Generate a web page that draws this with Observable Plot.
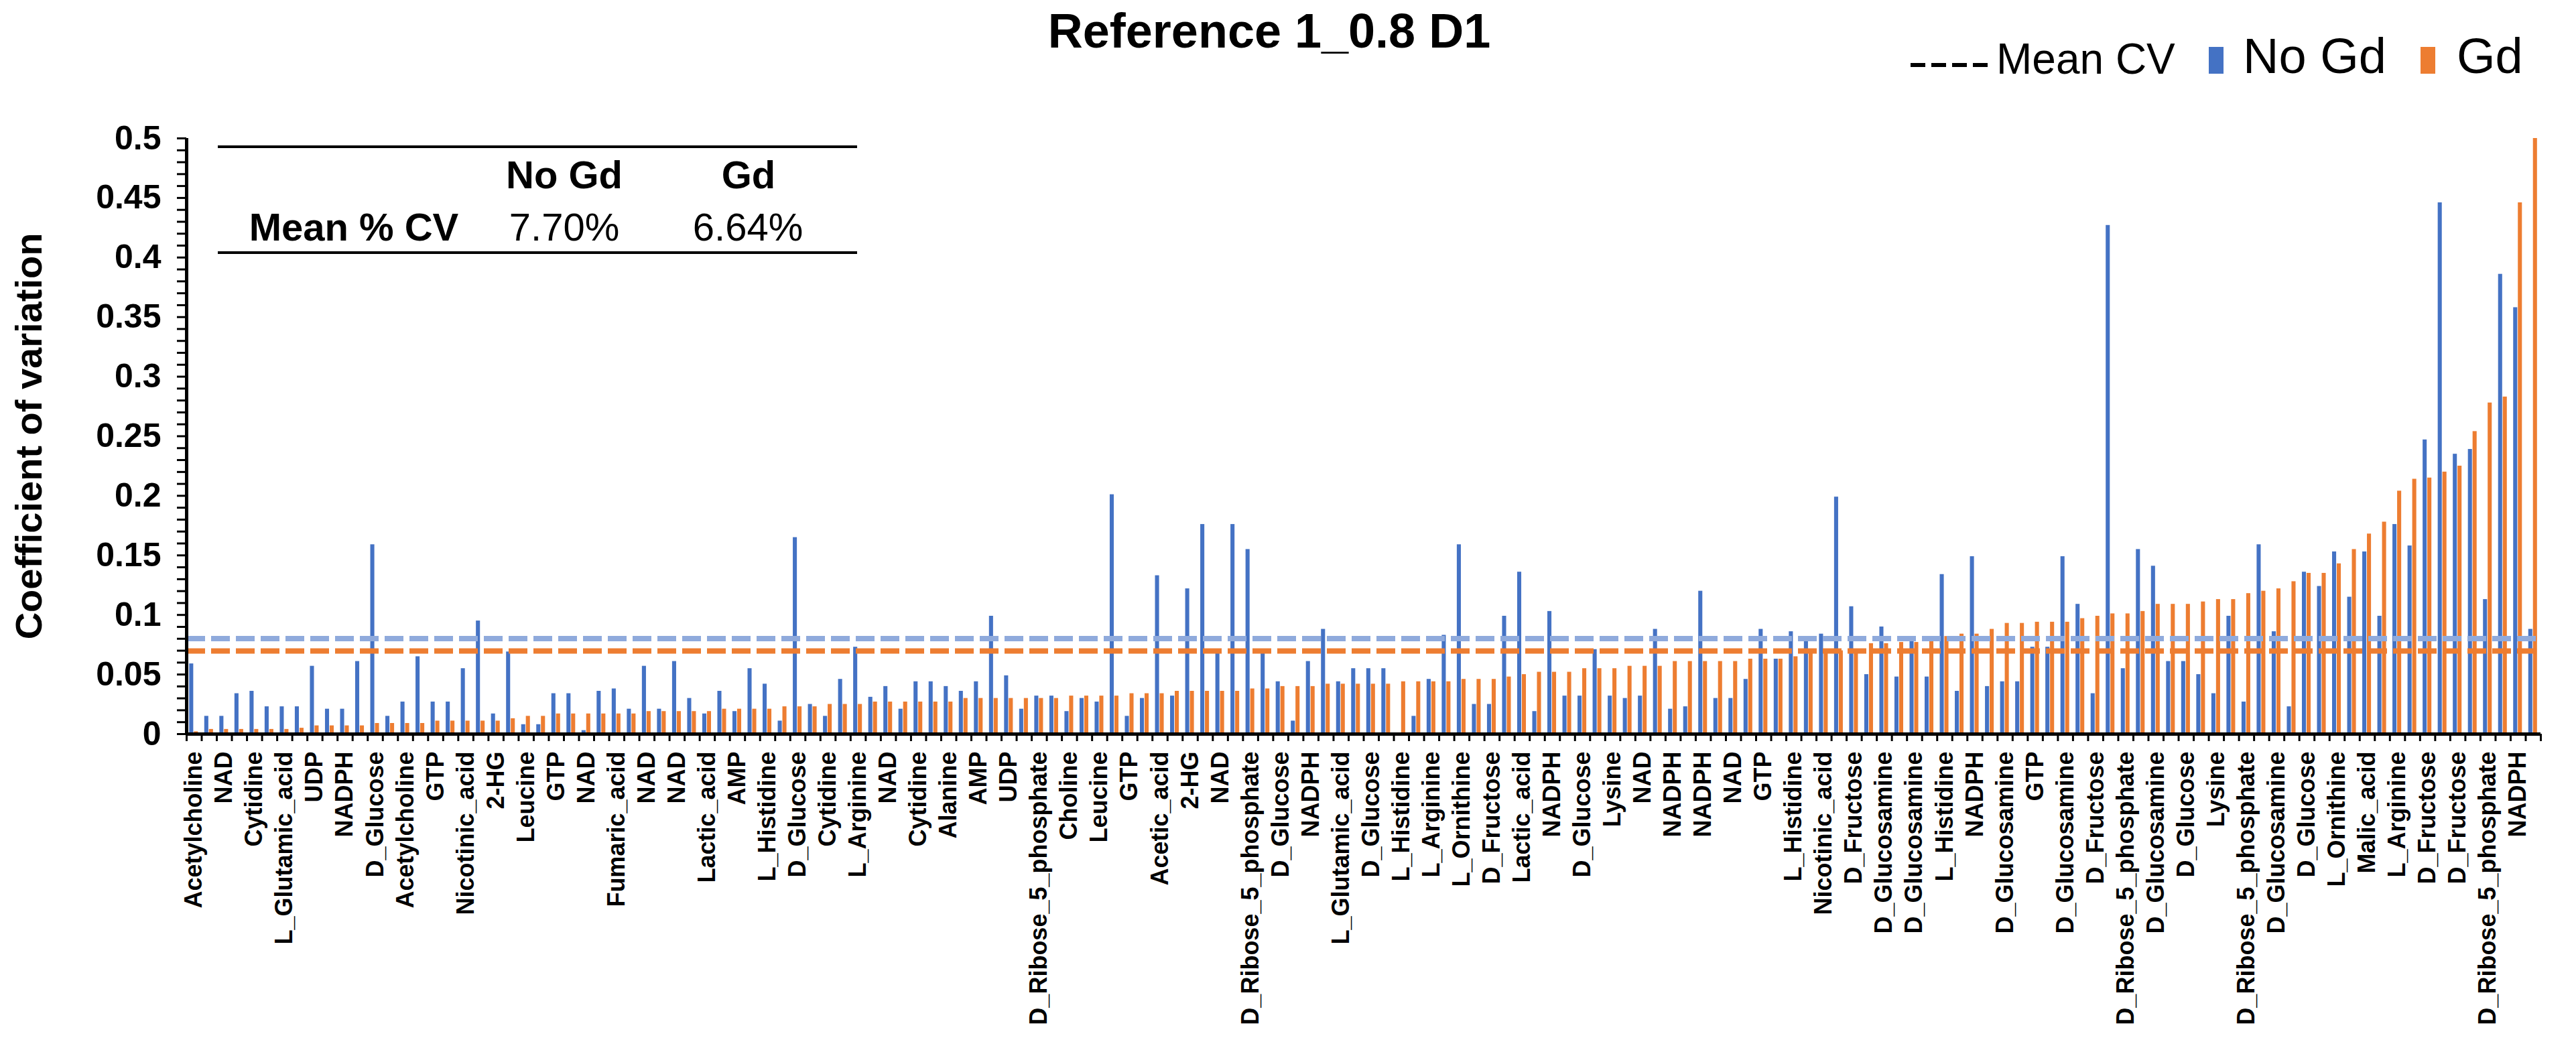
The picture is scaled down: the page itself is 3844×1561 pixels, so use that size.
<!DOCTYPE html>
<html>
<head>
<meta charset="utf-8">
<script src="https://cdn.jsdelivr.net/npm/d3@7"></script>
<script src="https://cdn.jsdelivr.net/npm/@observablehq/plot@0.6"></script>
<style>
  html, body { margin: 0; padding: 0; background: #fff; }
  #page { position: relative; width: 3844px; height: 1561px; font-family: "Liberation Sans", Arial, sans-serif; color: #000; overflow: hidden; }
  #header { position: relative; width: 3844px; height: 130px; }
  .abs { position: absolute; white-space: nowrap; }
  #title { left: 1394px; width: 1000px; text-align: center; top: 10px; font-size: 72px; line-height: 72px; font-weight: bold; }
  .leg { top: 56px; font-size: 64px; line-height: 64px; }
  .legbig { top: 47px; font-size: 74px; line-height: 74px; }
  .sw { position: absolute; top: 70px; width: 22px; height: 40px; }
  .dash { position: absolute; top: 94px; height: 6px; width: 116px;
          background: repeating-linear-gradient(to right, #000 0 22px, transparent 22px 31px); }
  #table { position: absolute; left: 0; top: 0; }
  .tline { position: absolute; left: 325px; width: 954px; height: 4px; background: #000; }
  .tcell { position: absolute; width: 400px; text-align: center; font-size: 58px; line-height: 58px; }
</style>
</head>
<body>
<div id="page">
  <div id="header">
    <div id="title" class="abs">Reference 1_0.8 D1</div>
    <div class="dash" style="left:2851px;"></div>
    <div class="abs leg" style="left:2979px;">Mean CV</div>
    <div class="sw" style="left:3296px;background:#4472C4;"></div>
    <div class="abs legbig" style="left:3347px;">No Gd</div>
    <div class="sw" style="left:3612px;background:#ED7D31;"></div>
    <div class="abs legbig" style="left:3666px;">Gd</div>
  </div>
  <div id="chart"></div>
  <div id="table">
    <div class="tline" style="top:217px;"></div>
    <div class="tcell" style="left:642px;top:232px;font-weight:bold;">No Gd</div>
    <div class="tcell" style="left:917px;top:232px;font-weight:bold;">Gd</div>
    <div class="tcell" style="left:328px;top:310px;font-weight:bold;">Mean % CV</div>
    <div class="tcell" style="left:642px;top:310px;">7.70%</div>
    <div class="tcell" style="left:916px;top:310px;">6.64%</div>
    <div class="tline" style="top:375px;"></div>
  </div>
</div>
<script>
// ---- data ----
const tickLabels = [
  "Acetylcholine","NAD","Cytidine","L_Glutamic_acid","UDP","NADPH","D_Glucose","Acetylcholine","GTP","Nicotinic_acid",
  "2-HG","Leucine","GTP","NAD","Fumaric_acid","NAD","NAD","Lactic_acid","AMP","L_Histidine",
  "D_Glucose","Cytidine","L_Arginine","NAD","Cytidine","Alanine","AMP","UDP","D_Ribose_5_phosphate","Choline",
  "Leucine","GTP","Acetic_acid","2-HG","NAD","D_Ribose_5_phosphate","D_Glucose","NADPH","L_Glutamic_acid","D_Glucose",
  "L_Histidine","L_Arginine","L_Ornithine","D_Fructose","Lactic_acid","NADPH","D_Glucose","Lysine","NAD","NADPH",
  "NADPH","NAD","GTP","L_Histidine","Nicotinic_acid","D_Fructose","D_Glucosamine","D_Glucosamine","L_Histidine","NADPH",
  "D_Glucosamine","GTP","D_Glucosamine","D_Fructose","D_Ribose_5_phosphate","D_Glucosamine","D_Glucose","Lysine","D_Ribose_5_phosphate","D_Glucosamine",
  "D_Glucose","L_Ornithine","Malic_acid","L_Arginine","D_Fructose","D_Fructose","D_Ribose_5_phosphate","NADPH"
];
const noGd = [
  0.059,0.015,0.015,0.034,0.036,0.023,0.023,0.023,0.057,0.021,
  0.021,0.061,0.159,0.015,0.027,0.065,0.027,0.027,0.055,0.095,
  0.017,0.069,0.008,0.008,0.034,0.034,0.003,0.036,0.038,0.021,
  0.057,0.021,0.061,0.030,0.017,0.036,0.019,0.055,0.042,0.011,
  0.165,0.025,0.015,0.046,0.073,0.031,0.040,0.021,0.044,0.044,
  0.040,0.036,0.044,0.099,0.049,0.021,0.032,0.032,0.019,0.030,
  0.027,0.201,0.015,0.030,0.133,0.032,0.122,0.176,0.069,0.176,
  0.155,0.069,0.044,0.011,0.061,0.088,0.044,0.055,0.055,0.055,
  0.001,0.015,0.046,0.083,0.159,0.025,0.025,0.099,0.136,0.019,
  0.103,0.032,0.032,0.071,0.032,0.030,0.032,0.088,0.021,0.023,
  0.120,0.030,0.030,0.046,0.088,0.063,0.086,0.078,0.084,0.199,
  0.107,0.050,0.090,0.048,0.080,0.048,0.134,0.036,0.149,0.040,
  0.044,0.044,0.073,0.073,0.149,0.109,0.034,0.427,0.055,0.155,
  0.141,0.061,0.061,0.050,0.034,0.099,0.027,0.159,0.086,0.023,
  0.136,0.124,0.153,0.115,0.153,0.099,0.176,0.158,0.247,0.446,
  0.235,0.239,0.113,0.386,0.358,0.088
];
const gd = [
  0.002,0.004,0.004,0.004,0.004,0.004,0.004,0.005,0.007,0.007,
  0.007,0.007,0.009,0.009,0.009,0.009,0.011,0.011,0.011,0.011,
  0.011,0.013,0.015,0.015,0.017,0.017,0.017,0.017,0.017,0.017,
  0.019,0.019,0.019,0.019,0.019,0.021,0.021,0.021,0.021,0.023,
  0.023,0.023,0.025,0.025,0.025,0.027,0.027,0.027,0.027,0.027,
  0.027,0.030,0.030,0.030,0.030,0.030,0.030,0.030,0.032,0.032,
  0.032,0.032,0.034,0.034,0.034,0.036,0.036,0.036,0.036,0.036,
  0.038,0.038,0.040,0.040,0.040,0.042,0.042,0.042,0.042,0.042,
  0.044,0.044,0.044,0.044,0.046,0.046,0.046,0.048,0.050,0.052,
  0.052,0.052,0.055,0.055,0.055,0.057,0.057,0.057,0.061,0.061,
  0.061,0.061,0.061,0.063,0.063,0.063,0.065,0.069,0.070,0.070,
  0.071,0.076,0.076,0.077,0.077,0.079,0.082,0.084,0.084,0.088,
  0.093,0.093,0.094,0.094,0.094,0.097,0.099,0.101,0.101,0.103,
  0.109,0.109,0.109,0.111,0.113,0.113,0.118,0.120,0.122,0.128,
  0.135,0.135,0.143,0.155,0.168,0.178,0.204,0.214,0.215,0.220,
  0.225,0.254,0.278,0.283,0.446,0.500
];
const meanLines = [
  {series: "No Gd", value: 0.0801},
  {series: "Gd", value: 0.0697}
];
const yMajorTicks = [0, 0.05, 0.1, 0.15, 0.2, 0.25, 0.3, 0.35, 0.4, 0.45, 0.5];
const yLabel = "Coefficient of variation";

// ---- build ----
const N = noGd.length;
const rows = noGd.map((v, i) => ({i, noGd: v, gd: gd[i]}));
const boundaries = d3.range(N + 1).map(k => k - 0.5);
const labelIdx = d3.range(0, N, 2).slice(0, tickLabels.length);
const yMinor = d3.range(0, 51).map(k => k / 100);
const fmtY = d => String(+d.toFixed(2));

const chart = Plot.plot({
  width: 3844,
  height: 1431,
  marginLeft: 278,
  marginRight: 53,
  marginTop: 76,
  marginBottom: 466,
  style: {fontFamily: '"Liberation Sans", Arial, sans-serif', background: "#fff", color: "#000", overflow: "visible"},
  x: {type: "linear", domain: [-0.5, N - 0.5], axis: null},
  y: {domain: [0, 0.5], axis: null, clamp: true},
  color: {domain: ["No Gd", "Gd"], range: ["#8FAADC", "#ED7D31"]},
  marks: [
    Plot.rect(rows, {x1: d => d.i - 0.31, x2: d => d.i - 0.04, y1: 0, y2: "noGd", fill: "#4472C4"}),
    Plot.rect(rows, {x1: d => d.i + 0.0, x2: d => d.i + 0.27, y1: 0, y2: "gd", fill: "#ED7D31"}),
    Plot.ruleY(meanLines, {y: "value", stroke: "series", strokeWidth: 8, strokeDasharray: "28,9"}),
    Plot.axisY({ticks: yMinor, tickSize: 14, tickFormat: () => "", strokeWidth: 3, label: null}),
    Plot.axisY({ticks: yMajorTicks, tickSize: 0, tickPadding: 38, tickFormat: fmtY, fontSize: 50, fontWeight: "bold", label: null}),
    Plot.text([yLabel], {frameAnchor: "left", textAnchor: "middle", dx: -234, rotate: -90, fontSize: 56, fontWeight: "bold", text: d => d}),
    Plot.axisX({ticks: boundaries, tickSize: 11, tickFormat: () => "", strokeWidth: 3, label: null}),
    Plot.axisX({ticks: labelIdx, tickSize: 0, tickPadding: 26, tickRotate: -90, tickFormat: i => tickLabels[i / 2], fontSize: 36, fontWeight: "bold", label: null}),
    Plot.ruleY([0], {stroke: "#000", strokeWidth: 5}),
    Plot.ruleX([-0.5], {y1: 0, y2: 0.5, stroke: "#000", strokeWidth: 5})
  ]
});
document.getElementById("chart").appendChild(chart);
</script>
</body>
</html>
